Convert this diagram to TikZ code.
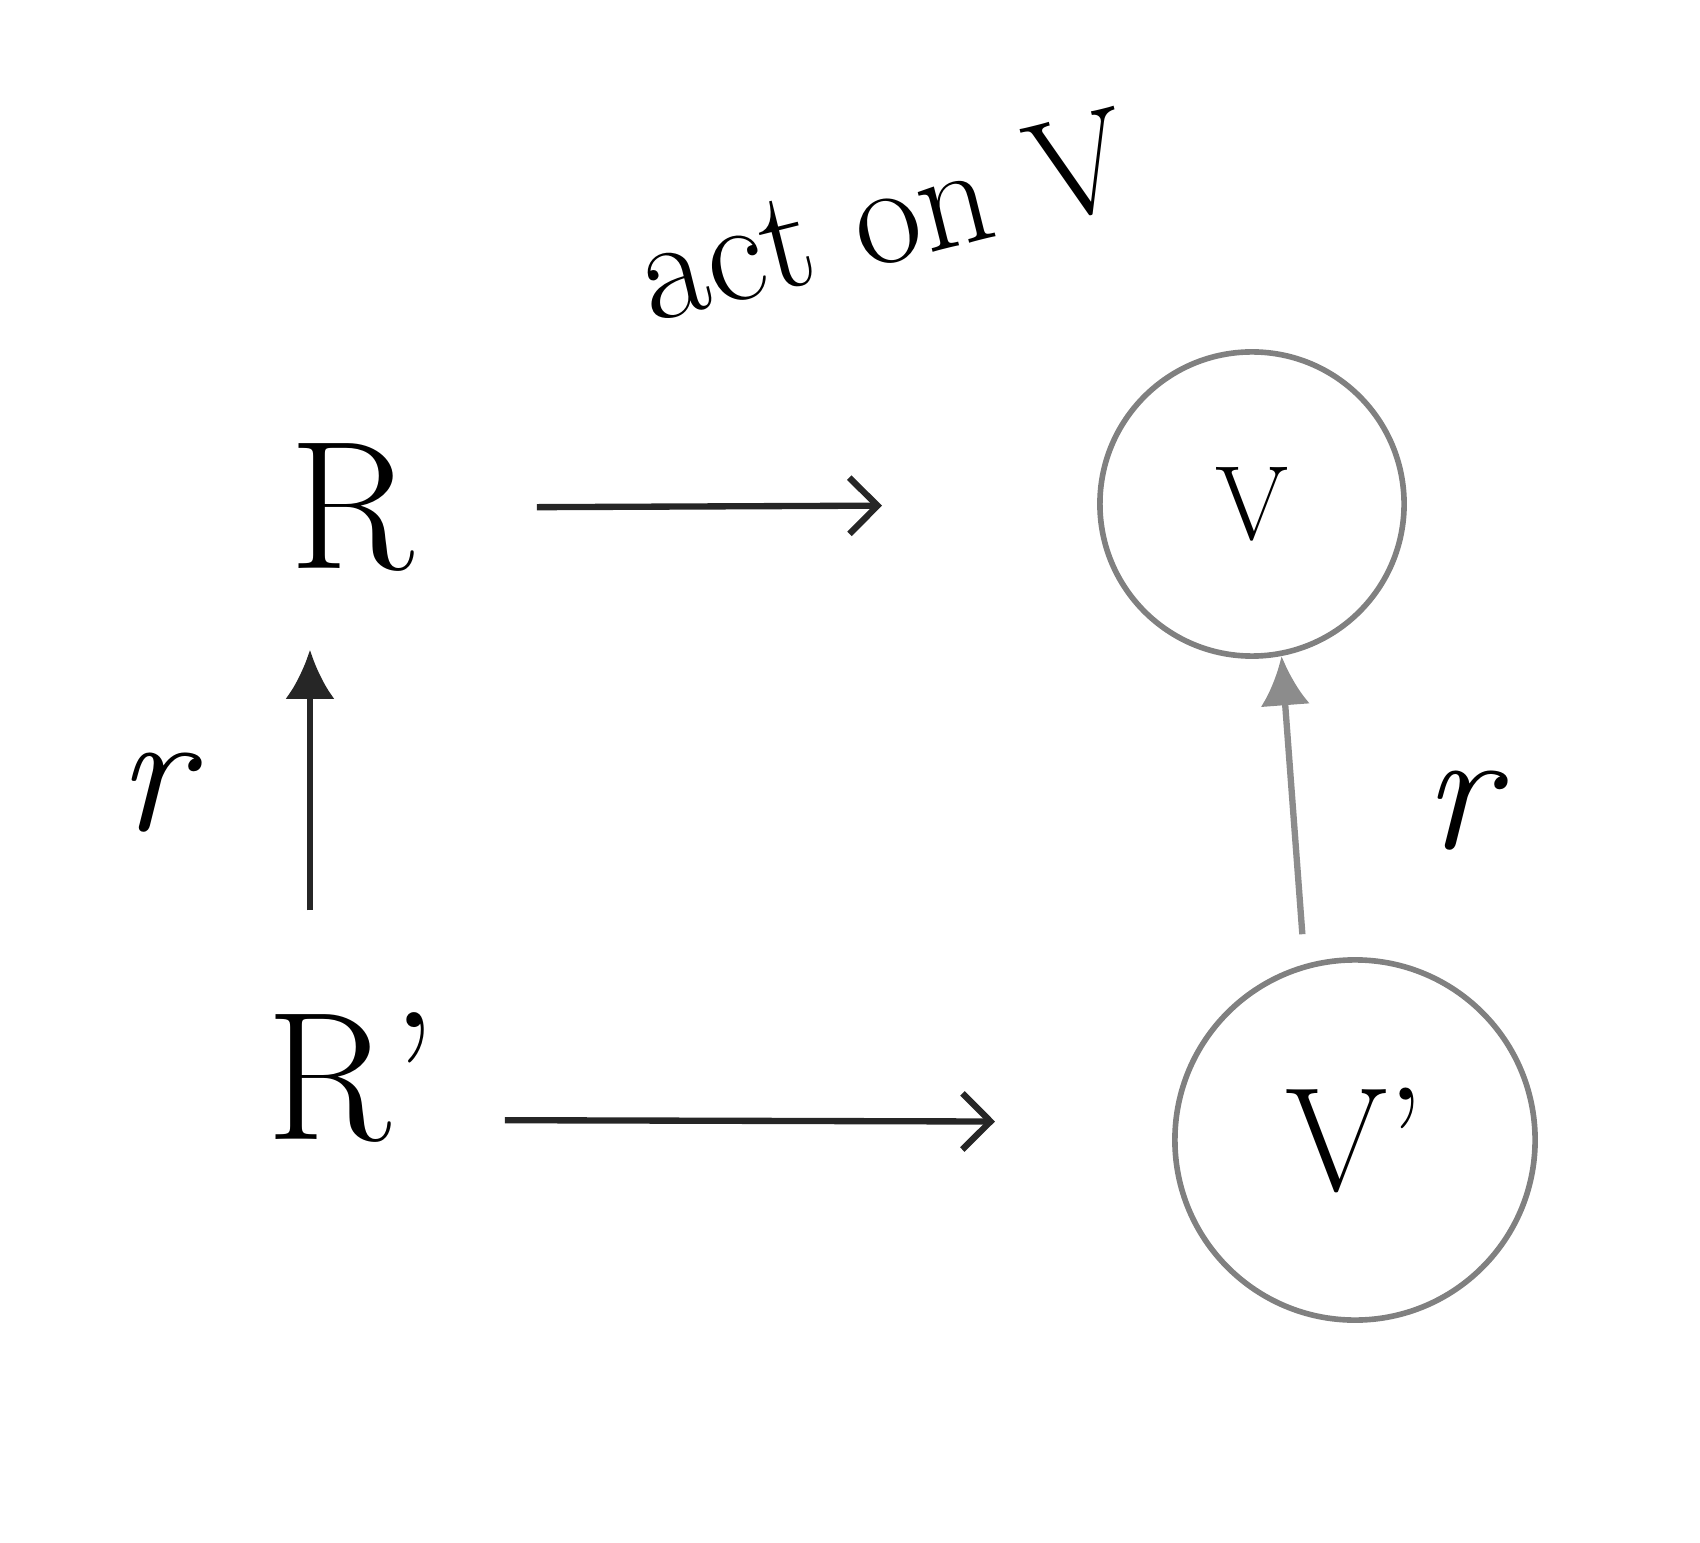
\documentclass[tikz,border=0pt]{standalone}
\usepackage{amsmath}
\usepackage{tikz}
\usetikzlibrary{arrows.meta, positioning}

\tikzset{
  letter/.style = {inner sep=2pt},
  ring/.style = {circle, draw=black!50, line width=1.6pt, inner sep=0pt},
  hand/.style = {line width=1.8pt, draw=black!85},
}

\begin{document}
\begin{tikzpicture}[x=0.01cm, y=-0.01cm]
\useasboundingbox (0,0) rectangle (1700,1543);

\node[letter, font=\fontsize{52}{56}\selectfont] (R) at (352,508) {R};
\node[letter, font=\fontsize{52}{56}\selectfont] (Rp) at (352,1078) {R'};

\node[ring, minimum size=3.04cm, font=\fontsize{30}{34}\selectfont] (V) at (1252,504) {V};
\node[ring, minimum size=3.6cm, font=\fontsize{42}{46}\selectfont] (Vp) at (1355,1140) {V'};

\node[rotate=14, font=\fontsize{41}{45}\selectfont] (act) at (884,215) {act on V};

% horizontal maps
\draw[hand, -{Straight Barb[length=8pt, width=16pt]}, shorten <=1.15cm, shorten >=2.15cm] (R) -- (V);
\draw[hand, -{Straight Barb[length=8pt, width=16pt]}, shorten <=0.6cm, shorten >=1.77cm]
  ([yshift=-0.42cm]Rp.east) -- ([yshift=0.18cm]Vp.west);

% vertical maps
\draw[hand, -{Latex[length=14pt, width=14pt]}, shorten <=0.95cm, shorten >=0.7cm]
  ([xshift=-0.42cm]Rp.north) -- ([xshift=-0.42cm]R.south)
  node[midway, left=1.05cm, font=\fontsize{50}{54}\selectfont\itshape] (rl) {r};
\draw[hand, draw=black!45, -{Latex[length=14pt, width=14pt]}, shorten <=0.3cm]
  (Vp.106) -- (V.-79)
  node[midway, right=1.15cm, font=\fontsize{50}{54}\selectfont\itshape] (rr) {r};

\end{tikzpicture}
\end{document}
